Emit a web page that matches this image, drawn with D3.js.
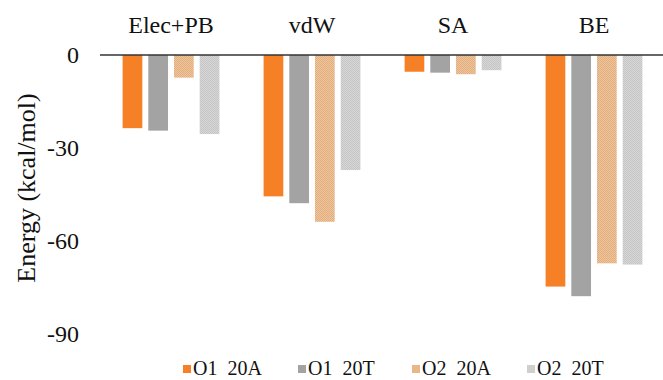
<!DOCTYPE html>
<html>
<head>
<meta charset="utf-8">
<script src="https://cdn.jsdelivr.net/npm/d3@7"></script>
<style>
  html, body { margin: 0; padding: 0; background: #fff; }
  svg text { font-family: "Liberation Serif", "Times New Roman", Times, "DejaVu Serif", serif !important; }
</style>
</head>
<body>
<svg id="chart" width="663" height="380"></svg>
<script>
// Energy components (kcal/mol) for each system
const categories = ["Elec+PB", "vdW", "SA", "BE"];
const seriesNames = ["O1  20A", "O1  20T", "O2  20A", "O2  20T"];
const o1_20A = [-23.6, -45.6, -5.4, -74.7];
const o1_20T = [-24.4, -47.8, -5.7, -77.8];
const o2_20A = [-7.3, -53.8, -6.2, -67.2];
const o2_20T = [-25.5, -37.1, -4.9, -67.6];
const yTicks = [0, -30, -60, -90];
const yLabel = "Energy (kcal/mol)";

const seriesValues = [o1_20A, o1_20T, o2_20A, o2_20T];
const colors = ["#F58025", "#A3A3A3", "url(#texTan)", "url(#texGray)"];
const swatch = ["#F58025", "#A3A3A3", "#E8B88A", "#CFCFCF"];

const svg = d3.select("#chart");

// fine textured fills for the O2 series
const defs = svg.append("defs");
function texture(id, a, b) {
  const p = defs.append("pattern").attr("id", id)
    .attr("width", 2).attr("height", 2).attr("patternUnits", "userSpaceOnUse");
  p.append("rect").attr("width", 2).attr("height", 2).attr("fill", a);
  p.append("rect").attr("width", 1).attr("height", 1).attr("fill", b);
  p.append("rect").attr("x", 1).attr("y", 1).attr("width", 1).attr("height", 1).attr("fill", b);
}
texture("texTan", "#EEC59C", "#E2AE7E");
texture("texGray", "#D6D6D6", "#C6C6C6");

const x0 = d3.scaleBand().domain(categories).range([100.5, 664.5]).paddingInner(0).paddingOuter(0);
const x1 = d3.scaleBand().domain(d3.range(seriesNames.length))
  .range([-48.4, 48.4]).paddingInner(0.233).paddingOuter(0);
const y = d3.scaleLinear().domain([-90, 0]).range([334, 55]);

// y axis labels only (no axis line or ticks)
const yAxis = d3.axisLeft(y).tickValues(yTicks).tickSize(0).tickPadding(0)
  .tickFormat(d => String(d));
const gy = svg.append("g").attr("transform", "translate(79,0)").call(yAxis);
gy.attr("font-family", null);
gy.select(".domain").remove();
gy.selectAll("text")
  .attr("font-size", 24)
  .attr("fill", "#111");

// bars
categories.forEach((cat, ci) => {
  const cx = x0(cat) + x0.bandwidth() / 2;
  seriesValues.forEach((vals, si) => {
    const v = vals[ci];
    svg.append("rect")
      .attr("x", cx + x1(si))
      .attr("y", y(0))
      .attr("width", x1.bandwidth())
      .attr("height", y(v) - y(0))
      .attr("fill", colors[si]);
  });
});

// zero line
svg.append("line")
  .attr("x1", 100).attr("x2", 663)
  .attr("y1", y(0)).attr("y2", y(0))
  .attr("stroke", "#333").attr("stroke-width", 1.5);

// category labels along the top
svg.append("g").selectAll("text").data(categories).join("text")
  .attr("x", d => x0(d) + x0.bandwidth() / 2)
  .attr("y", 33)
  .attr("text-anchor", "middle")
  .attr("font-size", 24)
  .attr("fill", "#111")
  .text(d => d);

// y axis title
svg.append("text")
  .attr("transform", "translate(35,188) rotate(-90)")
  .attr("text-anchor", "middle")
  .attr("font-size", 26)
  .attr("fill", "#111")
  .text(yLabel);

// legend
const legendX = [183, 298, 412, 527];
const lg = svg.append("g").selectAll("g").data(seriesNames).join("g")
  .attr("transform", (d, i) => `translate(${legendX[i]},0)`);
lg.append("rect").attr("x", 0).attr("y", 365).attr("width", 8).attr("height", 8)
  .attr("fill", (d, i) => swatch[i]);
lg.append("text").attr("x", 10).attr("y", 374.5)
  .attr("font-size", 20).attr("fill", "#111")
  .style("white-space", "pre")
  .text(d => d);
</script>
</body>
</html>
